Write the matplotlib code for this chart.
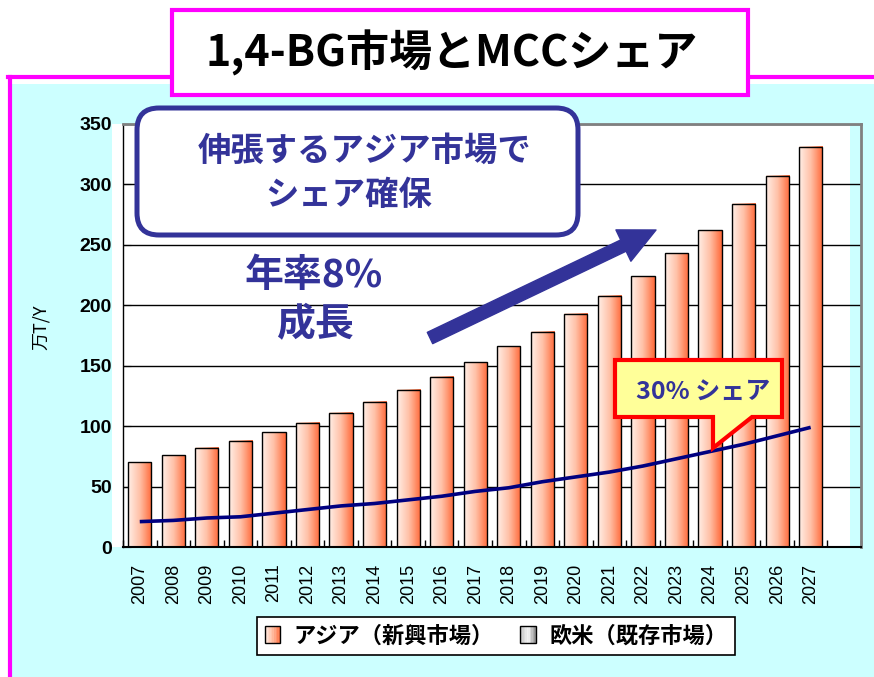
import matplotlib

matplotlib.use("Agg")
import matplotlib.pyplot as plt
import numpy as np
from matplotlib.colors import LinearSegmentedColormap
from matplotlib.legend_handler import HandlerBase
from matplotlib.lines import Line2D
from matplotlib.patches import FancyArrowPatch, FancyBboxPatch, Patch, Polygon, Rectangle
from matplotlib.transforms import Affine2D

# data (万T/Y)
years = ["2007", "2008", "2009", "2010", "2011", "2012", "2013", "2014", "2015", "2016",
         "2017", "2018", "2019", "2020", "2021", "2022", "2023", "2024", "2025", "2026", "2027"]
asia = [70, 76, 82, 88, 95, 103, 111, 120, 130, 141,
        153, 166, 178, 193, 208, 224, 243, 262, 284, 307, 331]
mcc = [21, 22, 24, 25, 28, 31, 34, 36, 39, 42,
       46, 49, 54, 58, 62, 67, 73, 79, 85, 92, 99]
legend_labels = ["アジア（新興市場）", "欧米（既存市場）"]
y_ticks = [0, 50, 100, 150, 200, 250, 300, 350]

NAVY = "#333399"
LINE_C = "#000080"
CYAN = "#ccffff"
MAGENTA = "#ff00ff"
JP = ["Noto Sans CJK JP", "DejaVu Sans"]
LAT = ["Liberation Sans", "DejaVu Sans"]

plt.rcParams["font.family"] = JP

W, H = 874, 677
fig = plt.figure(figsize=(W / 100, H / 100), dpi=100)
fig.patch.set_facecolor("white")
# image-pixel coordinates (origin top-left) for the decorations
PX = Affine2D().scale(0.01, -0.01).translate(0, H / 100) + fig.dpi_scale_trans

bar_cmap = LinearSegmentedColormap.from_list("bar", ["#ffeee6", "#ffc0a6", "#ff6a3a"])
grey_cmap = LinearSegmentedColormap.from_list("grey", ["#c4c4c4", "#f6f6f6", "#8c8c8c"])


class GradHandler(HandlerBase):
    def __init__(self, cmap):
        super().__init__()
        self.cmap = cmap

    def create_artists(self, legend, orig_handle, xdescent, ydescent, width, height, fontsize, trans):
        n = 10
        arts = [Rectangle((-xdescent + width * i / n, -ydescent), width / n, height,
                          fc=self.cmap((i + 0.5) / n), ec="none", transform=trans) for i in range(n)]
        arts.append(Rectangle((-xdescent, -ydescent), width, height, fc="none",
                              ec="black", lw=1, transform=trans))
        return arts


# background panel with magenta frame
fig.add_artist(Rectangle((12, 84), 880, 620, fc=CYAN, ec="none", transform=PX, zorder=-3))
fig.add_artist(Line2D([10, 10], [700, 77], color=MAGENTA, lw=3, transform=PX, zorder=-2))
fig.add_artist(Line2D([8, 880], [77, 77], color=MAGENTA, lw=3, transform=PX, zorder=-2))
fig.add_artist(Rectangle((112, 124), 740, 423, fc="white", ec="none", transform=PX, zorder=-2))

ax = fig.add_axes([123 / W, 1 - 547 / H, (861 - 123) / W, (547 - 124) / H])
ax.set_facecolor("none")
ax.add_patch(Rectangle((0.985, 0), 0.015, 1, transform=ax.transAxes, fc=CYAN, ec="none", zorder=0.1))

x = np.arange(len(years))
bars = ax.bar(x, asia, width=0.69, fc="none", ec="black", lw=1, zorder=3)
grad = np.linspace(0, 1, 64).reshape(1, -1)
for r in bars:
    ax.imshow(grad, cmap=bar_cmap, aspect="auto", interpolation="bilinear", zorder=2.5,
              extent=[r.get_x(), r.get_x() + r.get_width(), 0, r.get_height()])
ax.plot(x, mcc, color=LINE_C, lw=2.6, zorder=4, solid_capstyle="butt")

ax.set_xlim(-0.5, len(years) + 0.5)
ax.set_ylim(0, 350)
ax.set_yticks(y_ticks)
ax.set_yticklabels([str(v) for v in y_ticks], fontfamily=LAT, fontweight="bold", fontsize=14)
ax.tick_params(axis="y", direction="in", length=6, pad=8, color="black")
ax.set_xticks(x)
ax.set_xticklabels(years, rotation=90, fontfamily=LAT, fontsize=13)
ax.tick_params(axis="x", which="major", length=0, pad=12)
ax.set_xticks(np.arange(-0.5, len(years) + 0.6, 1), minor=True)
ax.tick_params(axis="x", which="minor", direction="in", length=5, width=1)
ax.yaxis.grid(True, color="black", lw=1)
ax.set_axisbelow(True)
for s in ["top", "right"]:
    ax.spines[s].set_color("#808080")
    ax.spines[s].set_linewidth(2)
ax.spines["left"].set_linewidth(1)
ax.spines["bottom"].set_linewidth(1.5)
ax.set_ylabel("万T/Y", fontsize=13)
ax.yaxis.set_label_coords((50 - 123) / 738, (547 - 327) / 423)

# title box
fig.add_artist(Rectangle((172, 10), 576, 85, fc="white", ec=MAGENTA, lw=3, transform=PX, zorder=2))
fig.text(452, 53, "1,4-BG市場とMCCシェア", transform=PX, ha="center", va="center",
         fontsize=31, fontweight="bold", color="black", zorder=3)

# message box
fig.add_artist(FancyBboxPatch((137, 108), 441, 127, boxstyle="round,pad=0,rounding_size=22",
                              fc="white", ec=NAVY, lw=3.6, transform=PX, zorder=2))
fig.text(365, 151, "伸張するアジア市場で", transform=PX, ha="center", va="center",
         fontsize=24, fontweight="bold", color=NAVY, zorder=3)
fig.text(349, 195, "シェア確保", transform=PX, ha="center", va="center",
         fontsize=24, fontweight="bold", color=NAVY, zorder=3)

# growth arrow and label
fig.add_artist(FancyArrowPatch((430, 338), (656, 230), transform=PX, color=NAVY,
                               arrowstyle="simple,head_width=1.25,head_length=1.3,tail_width=0.45",
                               mutation_scale=20, shrinkA=0, shrinkB=0, zorder=3))
fig.text(314, 275, "年率8%", transform=PX, ha="center", va="center",
         fontsize=28, fontweight="bold", color=NAVY, zorder=3)
fig.text(315, 324, "成長", transform=PX, ha="center", va="center",
         fontsize=28, fontweight="bold", color=NAVY, zorder=3)

# share callout
fig.add_artist(Polygon([(615, 360), (782, 360), (782, 417), (752, 417), (713, 448), (713, 417), (615, 417)],
                       closed=True, fc="#ffff99", ec="#ff0000", lw=3, joinstyle="miter",
                       transform=PX, zorder=2))
fig.text(703, 393, "30% シェア", transform=PX, ha="center", va="center",
         fontsize=18, fontweight="bold", color=NAVY, zorder=3)

# legend
h1, h2 = Patch(), Patch()
leg = fig.legend([h1, h2], legend_labels, handler_map={h1: GradHandler(bar_cmap), h2: GradHandler(grey_cmap)},
                 loc="center", bbox_to_anchor=(496, 636), bbox_transform=PX, ncol=2,
                 frameon=True, fancybox=False, edgecolor="black", framealpha=1,
                 prop=dict(family=JP, weight="bold", size=16), handlelength=0.7, handleheight=0.8,
                 handletextpad=0.6, columnspacing=1.2, borderpad=0.35)
leg.get_frame().set_linewidth(1.2)

fig.savefig("out.png", dpi=100)
